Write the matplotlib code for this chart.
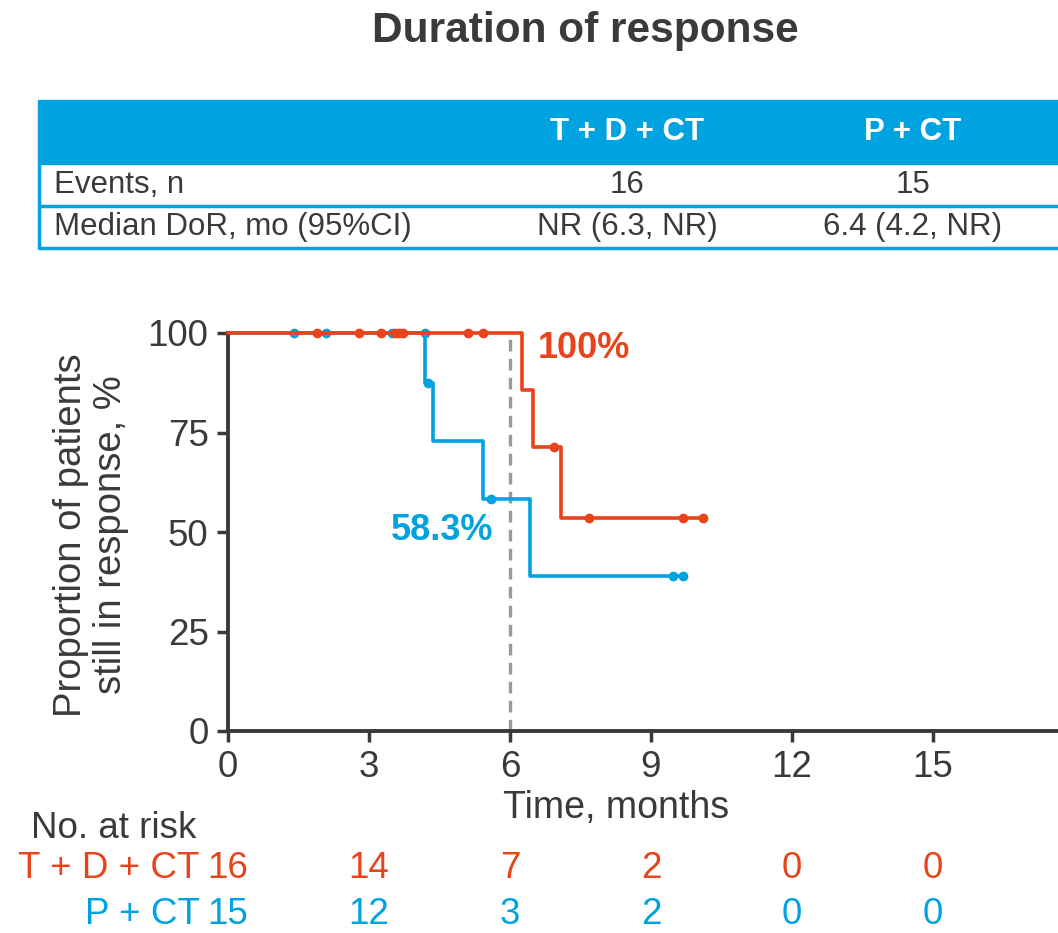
import matplotlib
matplotlib.use('Agg')
import matplotlib.pyplot as plt
import matplotlib.transforms as mtransforms
from matplotlib.patches import Rectangle
from matplotlib.lines import Line2D

plt.rcParams['font.family'] = ['Liberation Sans', 'DejaVu Sans']

RED = '#E8431A'
BLUE = '#00A3E0'
DARK = '#3a3a3a'
GREY = '#9a9a9a'

W, H = 1058, 933

# Summary table
col_headers = ['T + D + CT', 'P + CT']
row_labels = ['Events, n', 'Median DoR, mo (95%CI)']
td_cells = ['16', 'NR (6.3, NR)']
p_cells = ['15', '6.4 (4.2, NR)']

# KM step curves (time in months, % still in response)
td_step_t = [0, 6.26, 6.49, 7.09, 10.1]
td_step_s = [100, 85.7, 71.4, 53.6, 53.6]
td_cens_t = [1.89, 2.79, 3.26, 3.55, 3.63, 3.72, 5.11, 5.43, 6.94, 7.68, 9.68, 10.1]
td_cens_s = [100, 100, 100, 100, 100, 100, 100, 100, 71.4, 53.6, 53.6, 53.6]

p_step_t = [0, 4.19, 4.36, 5.43, 6.43, 9.68]
p_step_s = [100, 87.5, 72.9, 58.3, 38.9, 38.9]
p_cens_t = [1.40, 2.09, 3.49, 4.19, 4.25, 5.60, 9.47, 9.68]
p_cens_s = [100, 100, 100, 100, 87.5, 58.3, 38.9, 38.9]

# Numbers at risk
risk_times = [0, 3, 6, 9, 12, 15]
td_risk = [16, 14, 7, 2, 0, 0]
p_risk = [15, 12, 3, 2, 0, 0]


def fx(px):
    return px / W


def fy(py):
    return 1 - py / H


fig = plt.figure(figsize=(W / 100, H / 100), dpi=100)

# Title
fig.text(fx(585), fy(31), 'Duration of response', ha='center', va='center',
         fontsize=30.5, fontweight='bold', color=DARK)

# Table
fig.patches.append(Rectangle((fx(38), fy(164)), fx(1058) - fx(38), fy(100) - fy(164),
                             transform=fig.transFigure, color=BLUE, zorder=0))
for py in (206, 248):
    fig.add_artist(Line2D([fx(38), fx(1058)], [fy(py), fy(py)], color=BLUE, lw=2.5,
                          solid_capstyle='butt'))
fig.add_artist(Line2D([fx(39), fx(39)], [fy(164), fy(249)], color=BLUE, lw=2.5,
                      solid_capstyle='butt'))
col_x = [627, 913]
for cx, hdr in zip(col_x, col_headers):
    fig.text(fx(cx), fy(132), hdr, ha='center', va='center', fontsize=22.5,
             fontweight='bold', color='white')
for py, lab, a, b in zip([185, 227], row_labels, td_cells, p_cells):
    fig.text(fx(54), fy(py), lab, ha='left', va='center', fontsize=22.5, color=DARK)
    fig.text(fx(col_x[0]), fy(py), a, ha='center', va='center', fontsize=22.5, color=DARK)
    fig.text(fx(col_x[1]), fy(py), b, ha='center', va='center', fontsize=22.5, color=DARK)

# KM plot
ax = fig.add_axes([fx(228), fy(731), fx(1058) - fx(228), fy(333) - fy(731)])
ax.step(td_step_t, td_step_s, where='post', color=RED, lw=2.6, clip_on=False, zorder=3)
ax.plot(td_cens_t, td_cens_s, 'o', color=RED, ms=6, clip_on=False, zorder=4)
ax.step(p_step_t, p_step_s, where='post', color=BLUE, lw=2.6, clip_on=False, zorder=2)
ax.plot(p_cens_t, p_cens_s, 'o', color=BLUE, ms=6, clip_on=False, zorder=2)
ax.plot([6, 6], [0, 100], color=GREY, lw=2.4, ls=(0, (3.5, 2.2)), zorder=1)

ax.text(6.6, 96, '100%', color=RED, fontsize=26, fontweight='bold', ha='left', va='center')
ax.text(5.65, 50.5, '58.3%', color=BLUE, fontsize=26, fontweight='bold', ha='right', va='center')

ax.set_xlim(0, (1058 - 228) / 47.0)
ax.set_ylim(0, 100)
ax.set_xticks([0, 3, 6, 9, 12, 15])
ax.set_yticks([0, 25, 50, 75, 100])
ax.tick_params(labelsize=26.5, colors=DARK, width=2.5, length=8, pad=6)
for side in ('top', 'right'):
    ax.spines[side].set_visible(False)
for side in ('left', 'bottom'):
    ax.spines[side].set_color(DARK)
    ax.spines[side].set_linewidth(2.8)

fig.text(fx(616), fy(808), 'Time, months', ha='center', va='center', fontsize=27, color=DARK)

fig.text(fx(91), fy(535), 'Proportion of patients\nstill in response, %', rotation=90,
         ha='center', va='center', fontsize=27.5, color=DARK, linespacing=1.12)

# Numbers at risk
tr = mtransforms.blended_transform_factory(ax.transData, fig.transFigure)
fig.text(fx(114), fy(828), 'No. at risk', ha='center', va='center', fontsize=26.5, color=DARK)
fig.text(fx(200), fy(868), 'T + D + CT', ha='right', va='center', fontsize=26.5, color=RED)
fig.text(fx(200), fy(915), 'P + CT', ha='right', va='center', fontsize=26.5, color=BLUE)
for t, a, b in zip(risk_times, td_risk, p_risk):
    ax.text(t, fy(868), str(a), transform=tr, ha='center', va='center', fontsize=26.5,
            color=RED, clip_on=False)
    ax.text(t, fy(915), str(b), transform=tr, ha='center', va='center', fontsize=26.5,
            color=BLUE, clip_on=False)

fig.savefig('out.png', dpi=100)
